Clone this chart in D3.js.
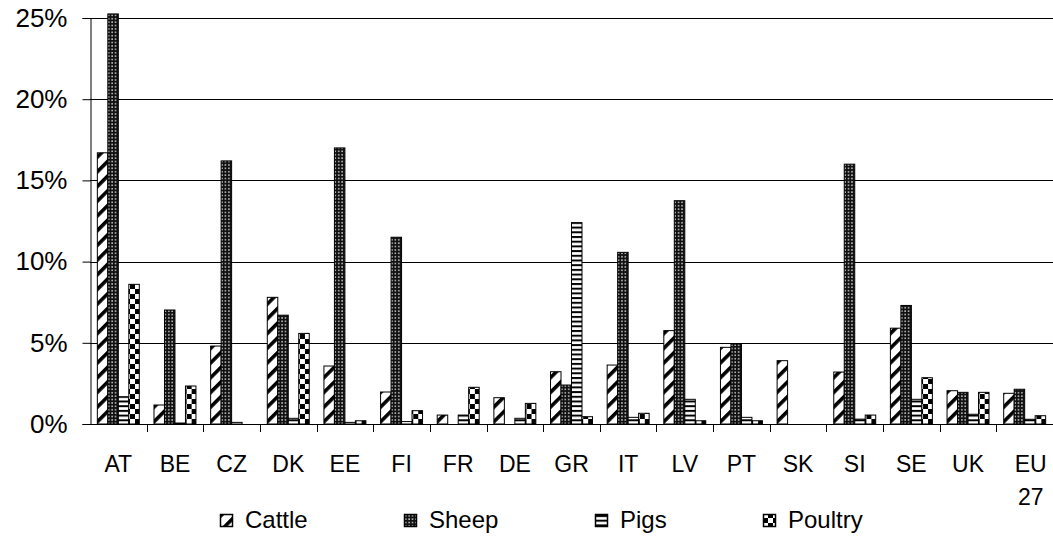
<!DOCTYPE html>
<html lang="en">
<head>
    <meta charset="UTF-8">
    <title>Share by country and livestock</title>
    <script src="https://d3js.org/d3.v7.min.js"></script>
    <style>
        body {
            margin: 0;
            background: #fff;
            font-family: "Liberation Sans", Arial, sans-serif;
        }
        .x-label {
            font-size: 23px;
            fill: #000;
        }
        .legend text {
            font-size: 24px;
            fill: #000;
        }
        .grid line {
            stroke: #000;
            stroke-width: 1;
        }
    </style>
</head>
<body>
    <svg id="chart" width="1053" height="543"></svg>

    <script>
        const countries = ["AT", "BE", "CZ", "DK", "EE", "FI", "FR", "DE", "GR", "IT", "LV", "PT", "SK", "SI", "SE", "UK", "EU 27"];
        const seriesNames = ["Cattle", "Sheep", "Pigs", "Poultry"];

        // values in %
        const cattle  = [16.7, 1.17, 4.8, 7.8, 3.57, 1.97, 0.55, 1.62, 3.22, 3.63, 5.75, 4.72, 3.9, 3.2, 5.9, 2.05, 1.89];
        const sheep   = [25.25, 7.02, 16.2, 6.7, 17.0, 11.5, 0, 0, 2.4, 10.57, 13.75, 4.93, 0, 16.0, 7.3, 1.95, 2.14];
        const pigs    = [1.68, 0.06, 0.1, 0.35, 0.1, 0.15, 0.55, 0.35, 12.4, 0.41, 1.52, 0.41, 0, 0.3, 1.52, 0.6, 0.29];
        const poultry = [8.6, 2.34, 0, 5.58, 0.2, 0.82, 2.26, 1.27, 0.45, 0.66, 0.2, 0.2, 0, 0.55, 2.85, 1.95, 0.51];

        const yTicks = [0, 5, 10, 15, 20, 25];

        const series = [cattle, sheep, pigs, poultry];
        const data = countries.map((c, i) => ({
            country: c,
            values: seriesNames.map((s, j) => ({ key: s, value: series[j][i] }))
        }));

        const plot = {left: 90, right: 1053, top: 18, bottom: 424};

        const svg = d3.select("#chart");

        // fill patterns
        const defs = svg.append("defs");

        const pCattle = defs.append("pattern")
            .attr("id", "pat-Cattle")
            .attr("patternUnits", "userSpaceOnUse")
            .attr("width", 10.4).attr("height", 10.4)
            .attr("patternTransform", "rotate(45)");
        pCattle.append("rect").attr("width", 10.4).attr("height", 10.4).attr("fill", "#fff");
        pCattle.append("rect").attr("width", 3.6).attr("height", 10.4).attr("fill", "#000");

        const pSheep = defs.append("pattern")
            .attr("id", "pat-Sheep")
            .attr("patternUnits", "userSpaceOnUse")
            .attr("width", 3.4).attr("height", 3.4);
        pSheep.append("rect").attr("width", 3.4).attr("height", 3.4).attr("fill", "#111");
        pSheep.append("rect").attr("x", 1).attr("y", 1).attr("width", 1.5).attr("height", 1.5).attr("fill", "#ccc");

        const pPigs = defs.append("pattern")
            .attr("id", "pat-Pigs")
            .attr("patternUnits", "userSpaceOnUse")
            .attr("width", 10).attr("height", 4.7)
            .attr("y", plot.bottom);
        pPigs.append("rect").attr("width", 10).attr("height", 4.7).attr("fill", "#fff");
        pPigs.append("rect").attr("width", 10).attr("height", 2).attr("fill", "#000");

        const pPoultry = defs.append("pattern")
            .attr("id", "pat-Poultry")
            .attr("patternUnits", "userSpaceOnUse")
            .attr("width", 10).attr("height", 10)
            .attr("y", plot.bottom);
        pPoultry.append("rect").attr("width", 10).attr("height", 10).attr("fill", "#fff");
        pPoultry.append("rect").attr("width", 5).attr("height", 5).attr("fill", "#000");
        pPoultry.append("rect").attr("x", 5).attr("y", 5).attr("width", 5).attr("height", 5).attr("fill", "#000");

        const x0 = d3.scaleBand()
            .domain(countries)
            .range([plot.left, plot.right])
            .paddingInner(0)
            .paddingOuter(0);

        const x1 = d3.scaleBand()
            .domain(seriesNames)
            .range([0, x0.bandwidth()])
            .paddingInner(0)
            .paddingOuter(0.7);

        const y = d3.scaleLinear()
            .domain([0, 25])
            .range([plot.bottom, plot.top]);

        // gridlines
        svg.append("g")
            .attr("class", "grid")
            .selectAll("line")
            .data(yTicks.filter(d => d > 0))
            .enter()
            .append("line")
            .attr("x1", plot.left)
            .attr("x2", plot.right)
            .attr("y1", d => Math.round(y(d)) + 0.5)
            .attr("y2", d => Math.round(y(d)) + 0.5);

        // bars
        const groups = svg.append("g")
            .selectAll("g")
            .data(data)
            .enter()
            .append("g")
            .attr("transform", d => `translate(${x0(d.country)},0)`);

        groups.selectAll("rect")
            .data(d => d.values.filter(v => v.value > 0))
            .enter()
            .append("rect")
            .attr("x", d => x1(d.key))
            .attr("y", d => y(d.value))
            .attr("width", x1.bandwidth())
            .attr("height", d => plot.bottom - y(d.value))
            .attr("fill", d => `url(#pat-${d.key})`)
            .attr("stroke", "#000")
            .attr("stroke-width", 1);

        // y axis
        const yAxis = svg.append("g")
            .attr("class", "y-axis")
            .attr("transform", `translate(${plot.left + 0.5},0)`)
            .call(d3.axisLeft(y).tickValues(yTicks).tickFormat(d => d + "%").tickSize(8).tickPadding(15));
        yAxis.select(".domain").attr("stroke", "#000");
        yAxis.selectAll(".tick line").attr("stroke", "#000");
        yAxis.selectAll("text")
            .attr("font-family", "Liberation Sans, Arial, sans-serif")
            .attr("font-size", 26)
            .attr("fill", "#000");

        // x axis line and group ticks
        svg.append("line")
            .attr("x1", plot.left).attr("x2", plot.right)
            .attr("y1", plot.bottom + 0.5).attr("y2", plot.bottom + 0.5)
            .attr("stroke", "#000");

        svg.append("g")
            .selectAll("line")
            .data(countries.slice(1))
            .enter()
            .append("line")
            .attr("x1", d => Math.round(x0(d)) + 0.5)
            .attr("x2", d => Math.round(x0(d)) + 0.5)
            .attr("y1", plot.bottom)
            .attr("y2", plot.bottom + 8)
            .attr("stroke", "#000");

        // x labels
        const xLabels = svg.append("g")
            .selectAll("text")
            .data(countries)
            .enter()
            .append("text")
            .attr("class", "x-label")
            .attr("text-anchor", "middle")
            .attr("x", d => x0(d) + x0.bandwidth() / 2)
            .attr("y", 472);

        xLabels.each(function(d) {
            const parts = d.split(" ");
            const t = d3.select(this);
            parts.forEach((p, i) => {
                t.append("tspan")
                    .attr("x", x0(d) + x0.bandwidth() / 2 + (parts.length > 1 ? 6 : 0))
                    .attr("dy", i === 0 ? 0 : 33)
                    .text(p);
            });
        });

        // legend
        const legendX = [220, 404, 595, 763];
        const legend = svg.append("g")
            .attr("class", "legend")
            .selectAll("g")
            .data(seriesNames)
            .enter()
            .append("g")
            .attr("transform", (d, i) => `translate(${legendX[i]},514)`);

        legend.append("rect")
            .attr("x", 0.5).attr("y", 0.5)
            .attr("width", 12).attr("height", 12)
            .attr("fill", d => `url(#pat-${d})`)
            .attr("stroke", "#000")
            .attr("stroke-width", 1.5);

        legend.append("text")
            .attr("x", 25)
            .attr("y", 14)
            .text(d => d);
    </script>
</body>
</html>
